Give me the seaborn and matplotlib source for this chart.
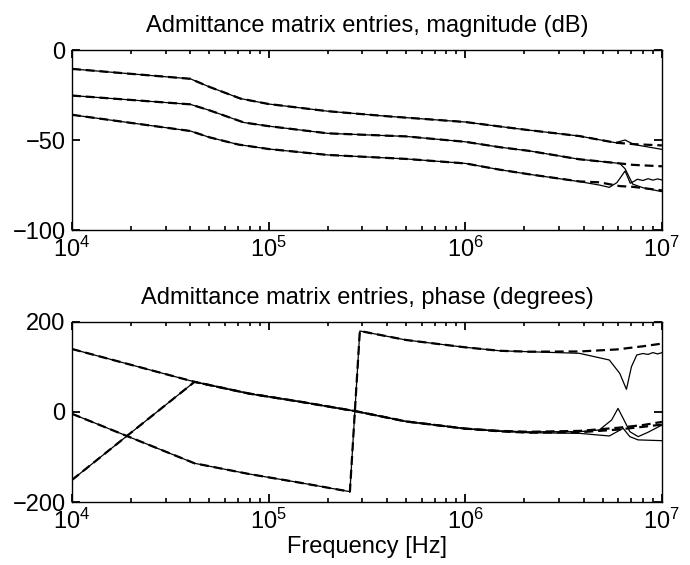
import numpy as np
import pandas as pd
import matplotlib
matplotlib.use("Agg")
import matplotlib.pyplot as plt
import seaborn as sns

# ---------------- data ----------------
# magnitude (dB)
mag1_f = [1e4, 4e4, 5e4, 7.2e4, 1e5, 2e5, 4e5, 1e6, 1.5e6, 2.1e6, 3.8e6, 5.8e6, 6.5e6, 7.2e6, 1e7]
mag1_solid = [-10.5, -16, -20.5, -27, -30, -34, -36.8, -40, -42.5, -44.5, -47.8, -51.5, -50, -52.5, -55.2]
mag1_dash_f = [1e4, 4e4, 5e4, 7.2e4, 1e5, 2e5, 4e5, 1e6, 1.5e6, 2.1e6, 3.8e6, 5.8e6, 7.2e6, 1e7]
mag1_dash = [-10.5, -16, -20.5, -27, -30, -34, -36.8, -40, -42.5, -44.5, -47.8, -51.5, -52.3, -53]

mag2_f = [1e4, 4e4, 5e4, 7.5e4, 1e5, 2e5, 5e5, 1e6, 1.5e6, 2.1e6, 3.8e6, 6.1e6, 6.5e6, 7.1e6, 8e6, 1e7]
mag2_solid = [-25.3, -30.2, -33.5, -40.3, -42.3, -46.3, -48, -51, -54, -56, -60.7, -63, -66, -74.5, -76.5, -78.7]
mag2_dash_f = [1e4, 4e4, 5e4, 7.5e4, 1e5, 2e5, 5e5, 1e6, 1.5e6, 2.1e6, 3.8e6, 6.1e6, 7.1e6, 1e7]
mag2_dash = [-25.3, -30.2, -33.5, -40.3, -42.3, -46.3, -48, -51, -54, -56, -60.7, -63, -63.8, -64.6]

mag3_f = [1e4, 4e4, 5e4, 7e4, 1e5, 2e5, 5e5, 1e6, 1.5e6, 2.1e6, 3.8e6, 4.8e6, 5.4e6, 5.9e6,
          6.5e6, 6.9e6, 7.2e6, 7.5e6, 8e6, 8.5e6, 9e6, 9.5e6, 1e7]
mag3_solid = [-36, -45, -48.5, -52.5, -55, -58.3, -60.5, -63, -66.5, -69, -73.1, -75, -76.3, -73.7,
              -67.2, -74, -73, -71.8, -72.5, -71.5, -72.3, -71.6, -72.2]
mag3_dash_f = [1e4, 4e4, 5e4, 7e4, 1e5, 2e5, 5e5, 1e6, 1.5e6, 2.1e6, 3.8e6, 4.8e6, 6.1e6, 7.1e6, 1e7]
mag3_dash = [-36, -45, -48.5, -52.5, -55, -58.3, -60.5, -63, -66.5, -69, -73, -73.5, -75.6, -76, -78]

# phase (degrees)
phA_f = [1e4, 4.2e4, 8e4, 1.44e5, 2.75e5, 5e5, 1e6, 1.5e6, 2.1e6, 3.8e6, 4.8e6, 5.55e6, 5.98e6,
         6.35e6, 6.87e6, 7.57e6, 8.5e6, 1e7]
phA_solid = [140, 67, 40.7, 23, 2, -21, -37, -42, -44, -43.7, -40, -17.8, 8, -14, -43.7, -54.8, -45, -29]
phA_dash_f = [1e4, 4.2e4, 8e4, 1.44e5, 2.75e5, 5e5, 1e6, 1.5e6, 2.1e6, 3.8e6, 6e6, 8e6, 1e7]
phA_dash = [140, 67, 40.7, 23, 2, -21, -37, -42, -44, -42, -35, -29, -22]

phB_f = [1e4, 4.2e4, 8e4, 1.44e5, 2.75e5, 5e5, 1e6, 1.5e6, 2.1e6, 3.8e6, 5.4e6, 6.35e6, 6.87e6, 7.57e6, 1e7]
phB_solid = [-151, 67, 40.7, 23, 2, -21, -37, -43, -46, -47.4, -53.3, -36.3, -54.8, -62, -63.7]
phB_dash_f = [1e4, 4.2e4, 8e4, 1.44e5, 2.75e5, 5e5, 1e6, 1.5e6, 2.1e6, 3.8e6, 6e6, 8e6, 1e7]
phB_dash = [-151, 67, 40.7, 23, 2, -21, -37, -43, -46, -45, -39, -33, -28]

phC_f = [1e4, 4.2e4, 8e4, 1.44e5, 2.59e5, 2.91e5, 5e5, 1e6, 1.5e6, 2.1e6, 3.8e6, 5.4e6, 6.1e6,
         6.6e6, 7.0e6, 7.45e6, 8e6, 8.5e6, 9e6, 9.5e6, 1e7]
phC_solid = [-4, -114, -138, -157, -177, 180, 160, 143.7, 136, 134, 130.4, 115.6, 86,
             50.4, 100.7, 126.7, 130, 128, 132, 129, 131.9]
phC_dash_f = [1e4, 4.2e4, 8e4, 1.44e5, 2.59e5, 2.91e5, 5e5, 1e6, 1.5e6, 2.1e6, 3.8e6, 5.9e6, 8e6, 1e7]
phC_dash = [-4, -114, -138, -157, -177, 180, 160, 143.7, 136, 134, 134.5, 139, 146, 152]

mag_ticks = [-100, -50, 0]
ph_ticks = [-200, 0, 200]
titles = ["Admittance matrix entries, magnitude (dB)",
          "Admittance matrix entries, phase (degrees)"]
xlabel = "Frequency [Hz]"

# ---------------- style ----------------
sns.set_theme(style="ticks")
plt.rcParams["font.family"] = ["Liberation Sans", "DejaVu Sans"]
plt.rcParams.update({
    "font.size": 17,
    "text.color": "black",
    "axes.labelcolor": "black",
    "axes.titlecolor": "black",
    "axes.linewidth": 1.0,
    "axes.edgecolor": "black",
    "axes.axisbelow": False,
    "xtick.color": "black", "ytick.color": "black",
    "xtick.labelcolor": "black", "ytick.labelcolor": "black",
    "mathtext.default": "regular",
})

fig = plt.figure(figsize=(6.9, 5.65), dpi=100)
fig.patch.set_facecolor("white")
ax1 = fig.add_axes([0.1043, 0.5929, 0.855, 0.3186])
ax2 = fig.add_axes([0.1043, 0.1115, 0.855, 0.3186])

solid_kw = dict(color="black", linewidth=0.9, sort=False, estimator=None)
dash_kw = dict(color="black", linewidth=1.6, sort=False, estimator=None, linestyle=(0, (4, 2.2)))

for f, v in [(mag1_f, mag1_solid), (mag2_f, mag2_solid), (mag3_f, mag3_solid)]:
    sns.lineplot(x=f, y=v, ax=ax1, **solid_kw)
for f, v in [(mag1_dash_f, mag1_dash), (mag2_dash_f, mag2_dash), (mag3_dash_f, mag3_dash)]:
    sns.lineplot(x=f, y=v, ax=ax1, **dash_kw)

for f, v in [(phA_f, phA_solid), (phB_f, phB_solid), (phC_f, phC_solid)]:
    sns.lineplot(x=f, y=v, ax=ax2, **solid_kw)
for f, v in [(phA_dash_f, phA_dash), (phB_dash_f, phB_dash), (phC_dash_f, phC_dash)]:
    sns.lineplot(x=f, y=v, ax=ax2, **dash_kw)

for ax, ticks, title in [(ax1, mag_ticks, titles[0]), (ax2, ph_ticks, titles[1])]:
    ax.set_axisbelow(False)
    ax.set_xscale("log")
    ax.set_xlim(1e4, 1e7)
    ax.set_ylim(ticks[0], ticks[-1])
    ax.set_yticks(ticks)
    ax.set_title(title, fontsize=17, pad=13, color="black")
    ax.minorticks_on()
    ax.tick_params(axis="both", which="major", direction="in", length=5.5, width=1.3,
                   top=True, bottom=True, left=True, right=True, labelsize=17,
                   colors="black")
    ax.tick_params(axis="x", which="minor", direction="in", length=3, width=1.2,
                   top=True, bottom=True, colors="black")
    ax.tick_params(axis="x", which="both", pad=5)
    ax.tick_params(axis="y", which="major", pad=4.5)
    ax.tick_params(axis="y", which="minor", left=False, right=False)
    ax.set_xlabel("")
    ax.set_ylabel("")
    for s in ax.spines.values():
        s.set_visible(True)
        s.set_color("black")

ax2.set_xlabel(xlabel, fontsize=17, labelpad=1, color="black")

fig.savefig("out.png", dpi=100, facecolor="white")
